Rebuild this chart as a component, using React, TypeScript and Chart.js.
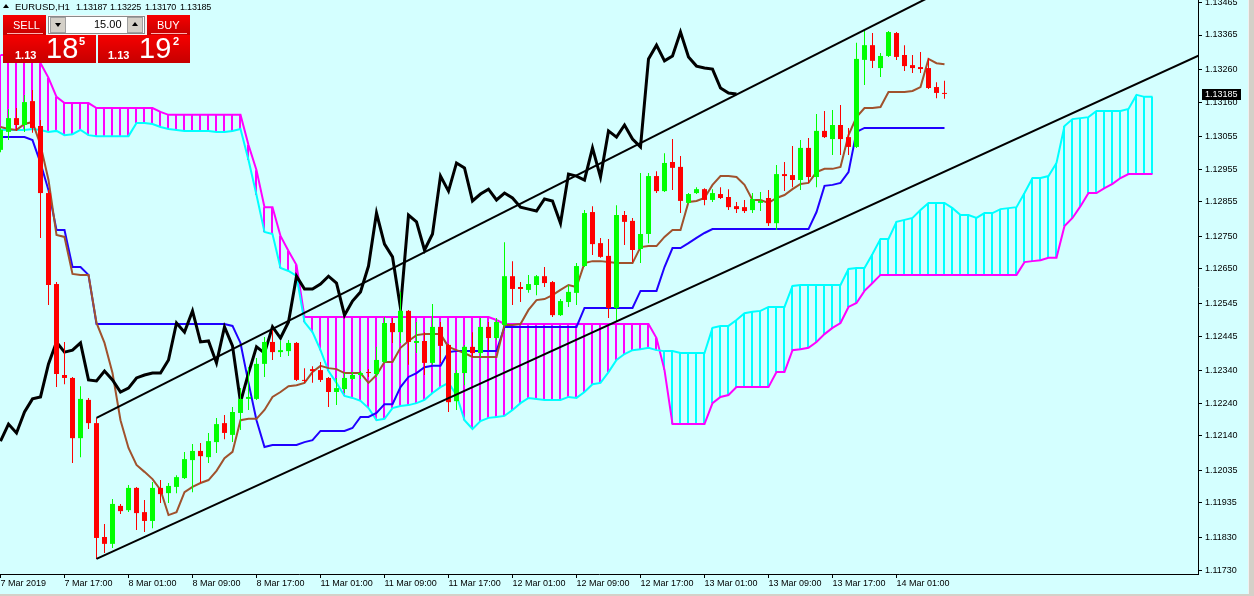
import React, { useEffect, useRef } from "react";
import { Chart, registerables } from "chart.js";

Chart.register(...registerables);

// ---------- data ----------
const xTickBars = [0, 8, 16, 24, 32, 40, 48, 56, 64, 72, 80, 88, 96, 104, 112];
const xTickLabels = [
  "7 Mar 2019", "7 Mar 17:00", "8 Mar 01:00", "8 Mar 09:00", "8 Mar 17:00",
  "11 Mar 01:00", "11 Mar 09:00", "11 Mar 17:00", "12 Mar 01:00", "12 Mar 09:00",
  "12 Mar 17:00", "13 Mar 01:00", "13 Mar 09:00", "13 Mar 17:00", "14 Mar 01:00",
];
const yTickValues = [
  1.13465, 1.13365, 1.1326, 1.1316, 1.13055, 1.12955, 1.12855, 1.1275, 1.1265,
  1.12545, 1.12445, 1.1234, 1.1224, 1.1214, 1.12035, 1.11935, 1.1183, 1.1173,
];

const opens = [
  1.13014, 1.13069, 1.13111, 1.1309, 1.13163, 1.13087, 1.12882, 1.12604, 1.12326, 1.12317,
  1.12133, 1.1225, 1.12179, 1.11831, 1.1181, 1.11926, 1.11913, 1.11981, 1.11907, 1.1188,
  1.11981, 1.11965, 1.11984, 1.12011, 1.12066, 1.12094, 1.12075, 1.12121, 1.12179, 1.12143,
  1.1221, 1.12253, 1.12253, 1.1236, 1.12427, 1.12396, 1.12399, 1.12424, 1.12311, 1.12344,
  1.12341, 1.12317, 1.12274, 1.12283, 1.12314, 1.12326, 1.12335, 1.12329, 1.12366, 1.12485,
  1.12457, 1.12522, 1.12424, 1.1243, 1.12363, 1.12473, 1.12418, 1.12246, 1.12332, 1.12412,
  1.12393, 1.12473, 1.12439, 1.12479, 1.12628, 1.12595, 1.12586, 1.12601, 1.12628, 1.1261,
  1.12509, 1.12549, 1.12577, 1.12659, 1.12824, 1.12729, 1.1269, 1.12531, 1.12815, 1.12797,
  1.12711, 1.12757, 1.12934, 1.12888, 1.12977, 1.12962, 1.12852, 1.12882, 1.12894, 1.12861,
  1.12879, 1.1287, 1.12842, 1.12839, 1.1283, 1.12852, 1.12867, 1.1279, 1.1294, 1.12937,
  1.12922, 1.1302, 1.12931, 1.13072, 1.13047, 1.1309, 1.13053, 1.13023, 1.13289, 1.13334,
  1.13264, 1.13301, 1.13371, 1.13304, 1.13273, 1.13267, 1.13264, 1.13206, 1.13187,
];
const highs = [
  1.13081, 1.13139, 1.13142, 1.13182, 1.13197, 1.13105, 1.12891, 1.1261, 1.12427, 1.1232,
  1.12292, 1.12256, 1.12195, 1.11871, 1.11947, 1.11932, 1.1199, 1.11984, 1.11944, 1.11999,
  1.12005, 1.11996, 1.1202, 1.12091, 1.12115, 1.12118, 1.12149, 1.12195, 1.12204, 1.12228,
  1.12286, 1.1235, 1.12378, 1.12442, 1.12464, 1.1243, 1.12433, 1.12427, 1.12347, 1.12353,
  1.12366, 1.1232, 1.12317, 1.12332, 1.12335, 1.12338, 1.12344, 1.12412, 1.12503, 1.125,
  1.1258, 1.12525, 1.12488, 1.12457, 1.12543, 1.12488, 1.12421, 1.12341, 1.12418, 1.12457,
  1.125, 1.12488, 1.125, 1.12732, 1.12674, 1.1261, 1.12632, 1.12632, 1.12656, 1.12613,
  1.12558, 1.12601, 1.12668, 1.1283, 1.12842, 1.12745, 1.12742, 1.12845, 1.12827, 1.12806,
  1.12943, 1.12943, 1.12949, 1.13004, 1.13047, 1.12995, 1.12882, 1.129, 1.12897, 1.12894,
  1.129, 1.12894, 1.12855, 1.12861, 1.12882, 1.12885, 1.12891, 1.12968, 1.12977, 1.13026,
  1.13044, 1.1305, 1.13124, 1.13133, 1.13136, 1.13151, 1.13081, 1.13341, 1.13383, 1.13371,
  1.1331, 1.13377, 1.13374, 1.13334, 1.13304, 1.13313, 1.13295, 1.13221, 1.13225,
];
const lows = [
  1.13007, 1.13044, 1.13072, 1.13069, 1.13066, 1.12745, 1.1254, 1.12289, 1.12298, 1.12057,
  1.12075, 1.12161, 1.11764, 1.11782, 1.11797, 1.11901, 1.11907, 1.11852, 1.11846, 1.11858,
  1.11935, 1.11935, 1.11965, 1.12008, 1.11968, 1.11996, 1.12057, 1.12088, 1.1213, 1.12121,
  1.12158, 1.12219, 1.1225, 1.1232, 1.12372, 1.12381, 1.12384, 1.12308, 1.12302, 1.12302,
  1.12305, 1.12228, 1.12234, 1.12271, 1.12311, 1.12314, 1.1232, 1.1232, 1.12363, 1.12424,
  1.12424, 1.12357, 1.12393, 1.12326, 1.12357, 1.12363, 1.12213, 1.12219, 1.12295, 1.12381,
  1.12378, 1.12402, 1.12433, 1.12473, 1.1254, 1.12549, 1.12577, 1.1257, 1.12595, 1.12503,
  1.12506, 1.12534, 1.1254, 1.12656, 1.12693, 1.12684, 1.125, 1.12488, 1.12723, 1.12671,
  1.12668, 1.12729, 1.12882, 1.12885, 1.12891, 1.12821, 1.12849, 1.12879, 1.12845, 1.12855,
  1.12864, 1.1283, 1.12821, 1.12821, 1.12821, 1.12827, 1.12781, 1.12769, 1.12888, 1.129,
  1.12891, 1.12913, 1.129, 1.1305, 1.12998, 1.12998, 1.12998, 1.1302, 1.13212, 1.13264,
  1.13237, 1.13298, 1.13289, 1.13255, 1.13249, 1.13249, 1.132, 1.13172, 1.1317,
];
const closes = [
  1.13075, 1.13111, 1.1309, 1.1316, 1.13081, 1.12882, 1.12601, 1.12329, 1.12317, 1.12133,
  1.12253, 1.12179, 1.11828, 1.1181, 1.11932, 1.1191, 1.11981, 1.11904, 1.1188, 1.11981,
  1.11962, 1.11987, 1.12014, 1.12069, 1.12094, 1.12078, 1.12124, 1.12176, 1.12149, 1.12213,
  1.12253, 1.12259, 1.1236, 1.12427, 1.12396, 1.12402, 1.12424, 1.12311, 1.12308, 1.12338,
  1.12311, 1.12274, 1.12286, 1.12317, 1.12326, 1.12332, 1.12332, 1.12372, 1.12485, 1.12457,
  1.12522, 1.12427, 1.1243, 1.12363, 1.12473, 1.12415, 1.12243, 1.12332, 1.12412, 1.12393,
  1.12473, 1.12439, 1.12488, 1.12628, 1.12589, 1.12589, 1.12604, 1.12628, 1.12607, 1.12509,
  1.12552, 1.1258, 1.12659, 1.12821, 1.12726, 1.12687, 1.12531, 1.12815, 1.12794, 1.12708,
  1.12757, 1.12934, 1.12888, 1.12974, 1.12959, 1.12858, 1.12879, 1.12894, 1.12861, 1.12882,
  1.12867, 1.12839, 1.12833, 1.12827, 1.12864, 1.12858, 1.1279, 1.1294, 1.12934, 1.12922,
  1.1302, 1.12931, 1.13072, 1.13053, 1.1309, 1.13047, 1.13023, 1.13292, 1.13334, 1.13286,
  1.13301, 1.13374, 1.13298, 1.1327, 1.13264, 1.13261, 1.13203, 1.13188, 1.13185,
];
const tenkan = [
  1.13084, 1.13078, 1.13075, 1.13093, 1.13099, 1.13029, 1.12922, 1.12754, 1.12748, 1.12635,
  1.12632, 1.12632, 1.12485, 1.12424, 1.12332, 1.12188, 1.12103, 1.12051, 1.1203, 1.12008,
  1.11975, 1.11898, 1.11907, 1.11968, 1.11984, 1.11996, 1.12005, 1.12033, 1.12072, 1.12091,
  1.12188, 1.12192, 1.12192, 1.12219, 1.12259, 1.12274, 1.12292, 1.12295, 1.12302, 1.12335,
  1.12354, 1.12347, 1.12344, 1.12332, 1.12332, 1.12332, 1.12302, 1.12326, 1.12366, 1.12366,
  1.12409, 1.1243, 1.12448, 1.12451, 1.12451, 1.12451, 1.12412, 1.12402, 1.12393, 1.12381,
  1.12381, 1.12381, 1.12381, 1.12479, 1.12479, 1.12482, 1.12525, 1.12555, 1.12558, 1.1257,
  1.12586, 1.12601, 1.12595, 1.12668, 1.12674, 1.12674, 1.12671, 1.12668, 1.12668, 1.12668,
  1.12717, 1.1272, 1.1272, 1.12748, 1.12769, 1.12769, 1.12855, 1.12858, 1.12867, 1.12907,
  1.12934, 1.12934, 1.12931, 1.12907, 1.12861, 1.12861, 1.12852, 1.12867, 1.12876, 1.12894,
  1.1291, 1.12913, 1.12946, 1.12956, 1.12956, 1.12962, 1.13059, 1.13114, 1.13142, 1.13142,
  1.13145, 1.13191, 1.13191, 1.13191, 1.13194, 1.13206, 1.13292, 1.13279, 1.13276,
];
const kijun = [
  1.13053, 1.13053, 1.13053, 1.13053, 1.13044, 1.12974, 1.12891, 1.12769, 1.12769, 1.12656,
  1.12656, 1.12632, 1.12482, 1.12482, 1.12482, 1.12482, 1.12482, 1.12482, 1.12482, 1.12482,
  1.12482, 1.12482, 1.12482, 1.12482, 1.12482, 1.12482, 1.12482, 1.12482, 1.12482, 1.12476,
  1.12424, 1.12302, 1.12188, 1.12106, 1.12112, 1.12112, 1.12112, 1.12112, 1.12121, 1.12127,
  1.12155, 1.12155, 1.12155, 1.12155, 1.12164, 1.12198, 1.12198, 1.1221, 1.12237, 1.12237,
  1.12289, 1.1232, 1.12332, 1.1235, 1.12354, 1.12354, 1.12396, 1.12399, 1.12399, 1.12399,
  1.12399, 1.12399, 1.12399, 1.12473, 1.12473, 1.12473, 1.12473, 1.12473, 1.12473, 1.12473,
  1.12473, 1.12473, 1.12473, 1.12531, 1.12531, 1.12531, 1.12531, 1.12531, 1.12531, 1.12531,
  1.12583, 1.12583, 1.12583, 1.12656, 1.12714, 1.12714, 1.12729, 1.12745, 1.1276, 1.12772,
  1.12772, 1.12772, 1.12772, 1.12772, 1.12772, 1.12772, 1.12772, 1.12772, 1.12772, 1.12772,
  1.12772, 1.12772, 1.12824, 1.12904, 1.12907, 1.12913, 1.12946, 1.13069, 1.13081, 1.13081,
  1.13081, 1.13081, 1.13081, 1.13081, 1.13081, 1.13081, 1.13081, 1.13081, 1.13081,
];
const senkouA = [
  1.13075, 1.13075, 1.13075, 1.13075, 1.13078, 1.13075, 1.13069, 1.13072, 1.13059, 1.13062,
  1.13075, 1.13059, 1.13056, 1.13056, 1.13056, 1.13056, 1.13056, 1.13096, 1.13096, 1.13093,
  1.13084, 1.13078, 1.13075, 1.13072, 1.13072, 1.13072, 1.13072, 1.13069, 1.13069, 1.13072,
  1.13078, 1.12983, 1.12876, 1.12763, 1.12757, 1.12653, 1.12644, 1.12629, 1.12488, 1.12457,
  1.12402, 1.12338, 1.12302, 1.12262, 1.12256, 1.12247, 1.12225, 1.12188, 1.12192, 1.12225,
  1.12231, 1.12234, 1.1224, 1.1225, 1.12271, 1.12289, 1.12302, 1.12265, 1.12188, 1.12161,
  1.12185, 1.12195, 1.12198, 1.12201, 1.12219, 1.1224, 1.12256, 1.12253, 1.1225, 1.1225,
  1.1225, 1.12259, 1.12256, 1.12274, 1.12298, 1.12302, 1.12335, 1.12372, 1.1239, 1.12402,
  1.12405, 1.12409, 1.12402, 1.12399, 1.12399, 1.12393, 1.12393, 1.12393, 1.12393, 1.1247,
  1.12476, 1.12476, 1.12494, 1.12515, 1.12519, 1.12522, 1.12534, 1.12534, 1.12534, 1.12598,
  1.12601, 1.12601, 1.12601, 1.12601, 1.12601, 1.12601, 1.1265, 1.12653, 1.12653, 1.12696,
  1.12742, 1.12742, 1.12794, 1.128, 1.12806, 1.1283, 1.12852, 1.12852, 1.12852, 1.12836,
  1.12815, 1.12815, 1.12806, 1.12821, 1.12821, 1.12833, 1.12836, 1.12839, 1.12882, 1.12928,
  1.12928, 1.12934, 1.12974, 1.13087, 1.13108, 1.13111, 1.13114, 1.13133, 1.13133, 1.13133,
  1.13133, 1.13139, 1.13182, 1.13176, 1.13176,
];
const senkouB = [
  1.13304, 1.13304, 1.13304, 1.13304, 1.13304, 1.13279, 1.13234, 1.13176, 1.13157, 1.13157,
  1.13157, 1.13157, 1.13142, 1.13142, 1.13142, 1.13142, 1.13142, 1.13142, 1.13142, 1.13142,
  1.1313, 1.13121, 1.13121, 1.13121, 1.13121, 1.13121, 1.13121, 1.13121, 1.13121, 1.13121,
  1.13121, 1.13029, 1.12952, 1.12839, 1.12839, 1.12751, 1.12705, 1.12662, 1.12503, 1.12503,
  1.12503, 1.12503, 1.12503, 1.12503, 1.12503, 1.12503, 1.12503, 1.12503, 1.12503, 1.12503,
  1.12503, 1.12503, 1.12503, 1.12503, 1.12503, 1.12503, 1.12503, 1.12503, 1.12503, 1.12503,
  1.12503, 1.12503, 1.12494, 1.12482, 1.12482, 1.12482, 1.12482, 1.12482, 1.12482, 1.12482,
  1.12482, 1.12482, 1.12482, 1.12482, 1.12482, 1.12482, 1.12482, 1.12482, 1.12482, 1.12482,
  1.12482, 1.12482, 1.12439, 1.12341, 1.12176, 1.12176, 1.12176, 1.12176, 1.12176, 1.1224,
  1.12259, 1.12265, 1.12289, 1.12289, 1.12289, 1.12289, 1.12289, 1.12335, 1.12335, 1.12402,
  1.12405, 1.12409, 1.12427, 1.12451, 1.1247, 1.12485, 1.12534, 1.12546, 1.12583, 1.12607,
  1.12632, 1.12632, 1.12632, 1.12632, 1.12632, 1.12632, 1.12632, 1.12632, 1.12632, 1.12632,
  1.12632, 1.12632, 1.12632, 1.12632, 1.12632, 1.12632, 1.12632, 1.12632, 1.12671, 1.12674,
  1.12677, 1.12684, 1.12684, 1.12781, 1.12806, 1.12842, 1.12882, 1.12882, 1.12897, 1.1291,
  1.12928, 1.1294, 1.1294, 1.1294, 1.1294,
];
const chikouShift = 26;
const upperTrendBars = [12, 118];
const upperTrendPrices = [1.12195, 1.13504];
const lowerTrendBars = [12, 150];
const lowerTrendPrices = [1.11764, 1.13305];

// ---------- styles ----------
const BG = "#D4FFFF";
const BULL = "#00FF00";
const BEAR = "#FF0000";
const TENKAN = "#A0522D";
const KIJUN = "#2000FF";
const SPAN_A = "#00FFFF";
const SPAN_B = "#FF00FF";
const FONT = "'Liberation Sans', Arial, sans-serif";
const FONT_SIZE = 9;
const Y_MAX = 1.13472;
const Y_MIN = 1.117179;
const X_MIN = -0.0625;
const X_MAX = 149.6875;
// hatch axis is shifted half a pixel so 2px hatch strokes land on whole pixels
const X2_MIN = 0;
const X2_MAX = 149.75;

const lastPriceBox = {
  id: "lastPriceBox",
  afterDraw(chart: any) {
    const { ctx, scales } = chart;
    const y = scales.y;
    const v = closes[closes.length - 1];
    const py = Math.round(y.getPixelForValue(v));
    ctx.save();
    ctx.fillStyle = "#000";
    ctx.fillRect(y.left + 4, py - 5, 39, 11);
    ctx.fillStyle = "#fff";
    ctx.font = `${FONT_SIZE}px ${FONT}`;
    ctx.textBaseline = "middle";
    ctx.textAlign = "left";
    ctx.fillText(v.toFixed(5), y.left + 7, py + 0.5);
    ctx.restore();
  },
};

const line = (data: any[], color: string, width: number, order: number) => ({
  type: "line" as const,
  data,
  borderColor: color,
  borderWidth: width,
  pointRadius: 0,
  tension: 0,
  fill: false,
  order,
});

export default function App() {
  const ref = useRef<HTMLCanvasElement>(null);

  useEffect(() => {
    const candleColors = opens.map((o, i) => (closes[i] >= o ? BULL : BEAR));
    const hatchColors = senkouA.map((a, i) => (senkouB[i] > a ? SPAN_B : SPAN_A));
    const chart = new Chart(ref.current as HTMLCanvasElement, {
      type: "bar",
      data: {
        datasets: [
          line(upperTrendBars.map((x, i) => ({ x, y: upperTrendPrices[i] })), "#000", 2, 0),
          line(lowerTrendBars.map((x, i) => ({ x, y: lowerTrendPrices[i] })), "#000", 2, 0),
          {
            type: "bar",
            data: opens.map((o, i) => ({ x: i, y: [o, closes[i]] })),
            backgroundColor: candleColors,
            grouped: false,
            maxBarThickness: 5,
            minBarLength: 1,
            borderWidth: 0,
            order: 1,
          } as any,
          {
            type: "bar",
            data: lows.map((l, i) => ({ x: i, y: [l, highs[i]] })),
            backgroundColor: candleColors,
            grouped: false,
            maxBarThickness: 1,
            borderWidth: 0,
            order: 2,
          } as any,
          line(closes.slice(chikouShift).map((c, i) => ({ x: i, y: c })), "#000", 3, 3),
          line(tenkan.map((v, i) => ({ x: i, y: v })), TENKAN, 2, 4),
          line(kijun.map((v, i) => ({ x: i, y: v })), KIJUN, 2, 5),
          line(senkouA.map((v, i) => ({ x: i, y: v })), SPAN_A, 2, 6),
          line(senkouB.map((v, i) => ({ x: i, y: v })), SPAN_B, 2, 7),
          {
            type: "bar",
            xAxisID: "x2",
            data: senkouA.map((a, i) => ({ x: i, y: [a, senkouB[i]] })),
            backgroundColor: hatchColors,
            grouped: false,
            maxBarThickness: 2,
            borderWidth: 0,
            order: 8,
          } as any,
        ],
      },
      options: {
        responsive: false,
        animation: false,
        devicePixelRatio: 1,
        layout: { padding: 0 },
        plugins: { legend: { display: false }, tooltip: { enabled: false } },
        scales: {
          x: {
            type: "linear",
            min: X_MIN,
            max: X_MAX,
            offset: false,
            afterBuildTicks: (s: any) => {
              s.ticks = xTickBars.map((v) => ({ value: v }));
            },
            afterFit: (s: any) => {
              s.height = 22;
              s.paddingLeft = 0;
              s.paddingRight = 0;
            },
            ticks: {
              autoSkip: false,
              maxRotation: 0,
              minRotation: 0,
              align: "start",
              padding: 0,
              color: "#000",
              font: { family: FONT, size: FONT_SIZE },
              callback: (_v: any, i: number) => xTickLabels[i],
            },
            grid: {
              display: true,
              drawOnChartArea: false,
              drawTicks: true,
              tickLength: 4,
              color: "#000",
              offset: false,
            },
            border: { display: true, color: "#000", width: 1 },
          },
          x2: {
            type: "linear",
            display: false,
            min: X2_MIN,
            max: X2_MAX,
            offset: false,
          },
          y: {
            type: "linear",
            position: "right",
            min: Y_MIN,
            max: Y_MAX,
            afterBuildTicks: (s: any) => {
              s.ticks = yTickValues.map((v) => ({ value: v }));
            },
            afterFit: (s: any) => {
              s.width = 56;
              s.paddingTop = 0;
              s.paddingBottom = 0;
            },
            ticks: {
              padding: 3,
              color: "#000",
              font: { family: FONT, size: FONT_SIZE },
              callback: (v: any) => Number(v).toFixed(5),
            },
            grid: {
              display: true,
              drawOnChartArea: false,
              drawTicks: true,
              tickLength: 4,
              color: "#000",
            },
            border: { display: true, color: "#000", width: 1 },
          },
        },
      } as any,
      plugins: [lastPriceBox],
    });
    return () => chart.destroy();
  }, []);

  const txt = (left: number, top: number, s: string, extra: any = {}) => (
    <div
      style={{
        position: "absolute",
        left,
        top,
        fontFamily: FONT,
        fontSize: FONT_SIZE,
        lineHeight: "12px",
        color: "#000",
        whiteSpace: "nowrap",
        ...extra,
      }}
    >
      {s}
    </div>
  );

  const red = "linear-gradient(#f60000, #c60000)";
  const white = { color: "#fff" };
  const PF = "'Liberation Sans', Arial, sans-serif";
  const hdr = { fontSize: 9, letterSpacing: "-0.2px" };

  return (
    <div
      style={{
        position: "fixed",
        left: 0,
        top: 0,
        width: 1254,
        height: 596,
        overflow: "hidden",
        background: BG,
      }}
    >
      <canvas
        ref={ref}
        width={1254}
        height={596}
        style={{ position: "absolute", left: 0, top: 0, width: 1254, height: 596 }}
      />
      {/* window frame */}
      <div style={{ position: "absolute", left: 1248, top: 0, width: 6, height: 596, background: "#d4d0c8", borderLeft: "1px solid #f0f0f0" }} />
      <div style={{ position: "absolute", left: 0, top: 594, width: 1254, height: 2, background: "#d4d0c8" }} />

      {/* header */}
      <div style={{ position: "absolute", left: 3, top: 4, width: 0, height: 0, borderLeft: "3px solid transparent", borderRight: "3px solid transparent", borderBottom: "4px solid #000" }} />
      {txt(15, 1, "EURUSD,H1", { fontSize: 9.5 })}
      {txt(76, 1, "1.13187", hdr)}
      {txt(110, 1, "1.13225", hdr)}
      {txt(145, 1, "1.13170", hdr)}
      {txt(180, 1, "1.13185", hdr)}

      {/* one-click trading panel */}
      <div style={{ position: "absolute", left: 47, top: 15, width: 100, height: 20, background: "#f4f4f4" }} />
      <div style={{ position: "absolute", left: 3, top: 15, width: 43, height: 20, background: red }} />
      <div style={{ position: "absolute", left: 147, top: 15, width: 43, height: 20, background: red }} />
      <div style={{ position: "absolute", left: 7, top: 33, width: 36, height: 1, background: "#ffb0b0" }} />
      <div style={{ position: "absolute", left: 151, top: 33, width: 36, height: 1, background: "#ffb0b0" }} />
      {txt(13, 19, "SELL", { ...white, fontSize: 11, fontFamily: PF })}
      {txt(157, 19, "BUY", { ...white, fontSize: 11, fontFamily: PF })}

      <div style={{ position: "absolute", left: 48, top: 16, width: 97, height: 18, background: "#fff", border: "1px solid #8a8a8a", boxSizing: "border-box" }} />
      <div style={{ position: "absolute", left: 50, top: 17, width: 16, height: 16, background: "#d4d0c8", border: "1px solid #a0a0a0", boxSizing: "border-box" }} />
      <div style={{ position: "absolute", left: 127, top: 17, width: 16, height: 16, background: "#d4d0c8", border: "1px solid #a0a0a0", boxSizing: "border-box" }} />
      <div style={{ position: "absolute", left: 55, top: 23, width: 0, height: 0, borderLeft: "3px solid transparent", borderRight: "3px solid transparent", borderTop: "4px solid #000" }} />
      <div style={{ position: "absolute", left: 132, top: 22, width: 0, height: 0, borderLeft: "3px solid transparent", borderRight: "3px solid transparent", borderBottom: "4px solid #000" }} />
      {txt(94, 18, "15.00", { fontSize: 11, fontFamily: PF })}

      <div style={{ position: "absolute", left: 3, top: 35, width: 93, height: 28, background: red }} />
      <div style={{ position: "absolute", left: 98, top: 35, width: 92, height: 28, background: red }} />
      {txt(15, 49, "1.13", { ...white, fontSize: 11, fontWeight: "bold", fontFamily: PF })}
      {txt(46, 33, "18", { ...white, fontSize: 29, lineHeight: "30px", fontFamily: PF })}
      {txt(79, 35, "5", { ...white, fontSize: 11, fontWeight: "bold", fontFamily: PF })}
      {txt(108, 49, "1.13", { ...white, fontSize: 11, fontWeight: "bold", fontFamily: PF })}
      {txt(139, 33, "19", { ...white, fontSize: 29, lineHeight: "30px", fontFamily: PF })}
      {txt(173, 35, "2", { ...white, fontSize: 11, fontWeight: "bold", fontFamily: PF })}
    </div>
  );
}
